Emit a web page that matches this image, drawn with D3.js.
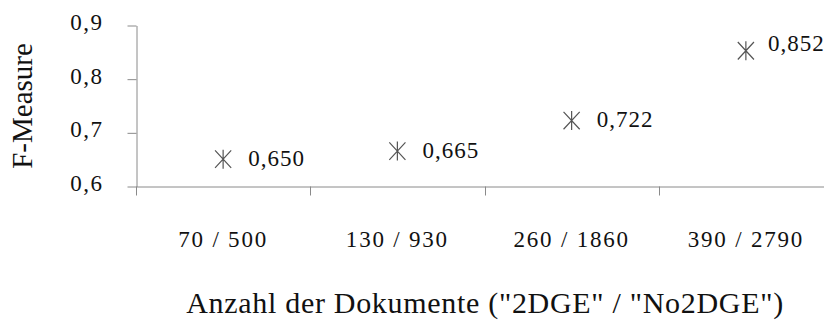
<!DOCTYPE html>
<html>
<head>
<meta charset="utf-8">
<script src="https://cdn.jsdelivr.net/npm/d3@7"></script>
<style>
  body { margin: 0; background: #fff; }
  svg { display: block; }
</style>
</head>
<body>
<svg id="chart" width="824" height="322"></svg>
<script>
// Document counts per run ("2DGE" / "No2DGE") and the resulting F-measure
const categories = ["70 / 500", "130 / 930", "260 / 1860", "390 / 2790"];
const fMeasure = [0.650, 0.665, 0.722, 0.852];
const yTicks = [0.6, 0.7, 0.8, 0.9];
const xTitle = 'Anzahl der Dokumente ("2DGE" / "No2DGE")';
const yTitle = "F-Measure";

// German number style: decimal comma
const de = d3.formatLocale({ decimal: ",", thousands: ".", grouping: [3], currency: ["", " €"] });
const fmtTick = de.format(".1f");
const fmtValue = de.format(".3f");

const serif = '"Liberation Serif"';
const ink = "#111";
const axisColor = "#8a8a8a";

const svg = d3.select("#chart");

const x = d3.scaleBand().domain(categories).range([136, 833]);
const y = d3.scaleLinear().domain([0.6, 0.9]).range([186, 25]);

// Y axis with ticks pointing left
const yAxis = svg.append("g")
  .attr("transform", "translate(136.5,0.5)")
  .call(d3.axisLeft(y).tickValues(yTicks).tickFormat(fmtTick).tickSize(9).tickSizeOuter(0).tickPadding(24));
yAxis.attr("font-family", null).attr("font-size", null);
yAxis.selectAll("path, line").attr("stroke", axisColor);
yAxis.selectAll("text")
  .attr("dy", "0.17em")
  .style("font-family", serif)
  .style("font-size", "23px")
  .style("letter-spacing", "1.5px")
  .attr("fill", ink);

// X axis: category labels centred in each band
const xAxis = svg.append("g")
  .attr("transform", "translate(0,186.5)")
  .call(d3.axisBottom(x).tickSize(0).tickSizeOuter(0).tickPadding(44));
xAxis.attr("font-family", null).attr("font-size", null);
xAxis.select(".domain").attr("stroke", axisColor);
xAxis.selectAll("text")
  .style("font-family", serif)
  .style("font-size", "23px")
  .style("letter-spacing", "1.8px")
  .attr("fill", ink);

// Band boundary tick marks below the x axis
svg.append("g").selectAll("line")
  .data(categories)
  .join("line")
  .attr("x1", d => Math.round(x(d)) + 0.5)
  .attr("x2", d => Math.round(x(d)) + 0.5)
  .attr("y1", 186.5)
  .attr("y2", 195.5)
  .attr("stroke", axisColor);

// Asterisk marker: vertical stroke plus a steep cross
const starSymbol = {
  draw(context, size) {
    const r = Math.sqrt(size) / 2;
    const u = r * 0.85, t = r * 0.92;
    context.moveTo(0, -r); context.lineTo(0, r);
    context.moveTo(-u, -t); context.lineTo(u, t);
    context.moveTo(-u, t); context.lineTo(u, -t);
  }
};

const points = categories.map((c, i) => ({ cat: c, value: fMeasure[i] }));

svg.append("g").selectAll("path")
  .data(points)
  .join("path")
  .attr("transform", d => `translate(${x(d.cat) + x.bandwidth() / 2},${y(d.value)})`)
  .attr("d", d3.symbol().type(starSymbol).size(19 * 19))
  .attr("fill", "none")
  .attr("stroke", "#555")
  .attr("stroke-width", 1.2);

// Value labels to the right of each marker; the last one sits a little higher
svg.append("g").selectAll("text")
  .data(points)
  .join("text")
  .attr("x", (d, i) => x(d.cat) + x.bandwidth() / 2 + (i === points.length - 1 ? 22 : 25))
  .attr("y", (d, i) => y(d.value) - (i === points.length - 1 ? 7 : 0))
  .attr("dy", "0.3em")
  .attr("fill", ink)
  .style("font-family", serif)
  .style("font-size", "23px")
  .style("letter-spacing", "1px")
  .text(d => fmtValue(d.value));

// Axis titles
svg.append("text")
  .attr("x", 485)
  .attr("y", 313)
  .attr("text-anchor", "middle")
  .attr("fill", ink)
  .style("font-family", serif)
  .style("font-size", "30px")
  .style("letter-spacing", "0.7px")
  .text(xTitle);

svg.append("text")
  .attr("transform", "translate(32,106) rotate(-90)")
  .attr("text-anchor", "middle")
  .attr("fill", ink)
  .style("font-family", serif)
  .style("font-size", "29px")
  .text(yTitle);
</script>
</body>
</html>
